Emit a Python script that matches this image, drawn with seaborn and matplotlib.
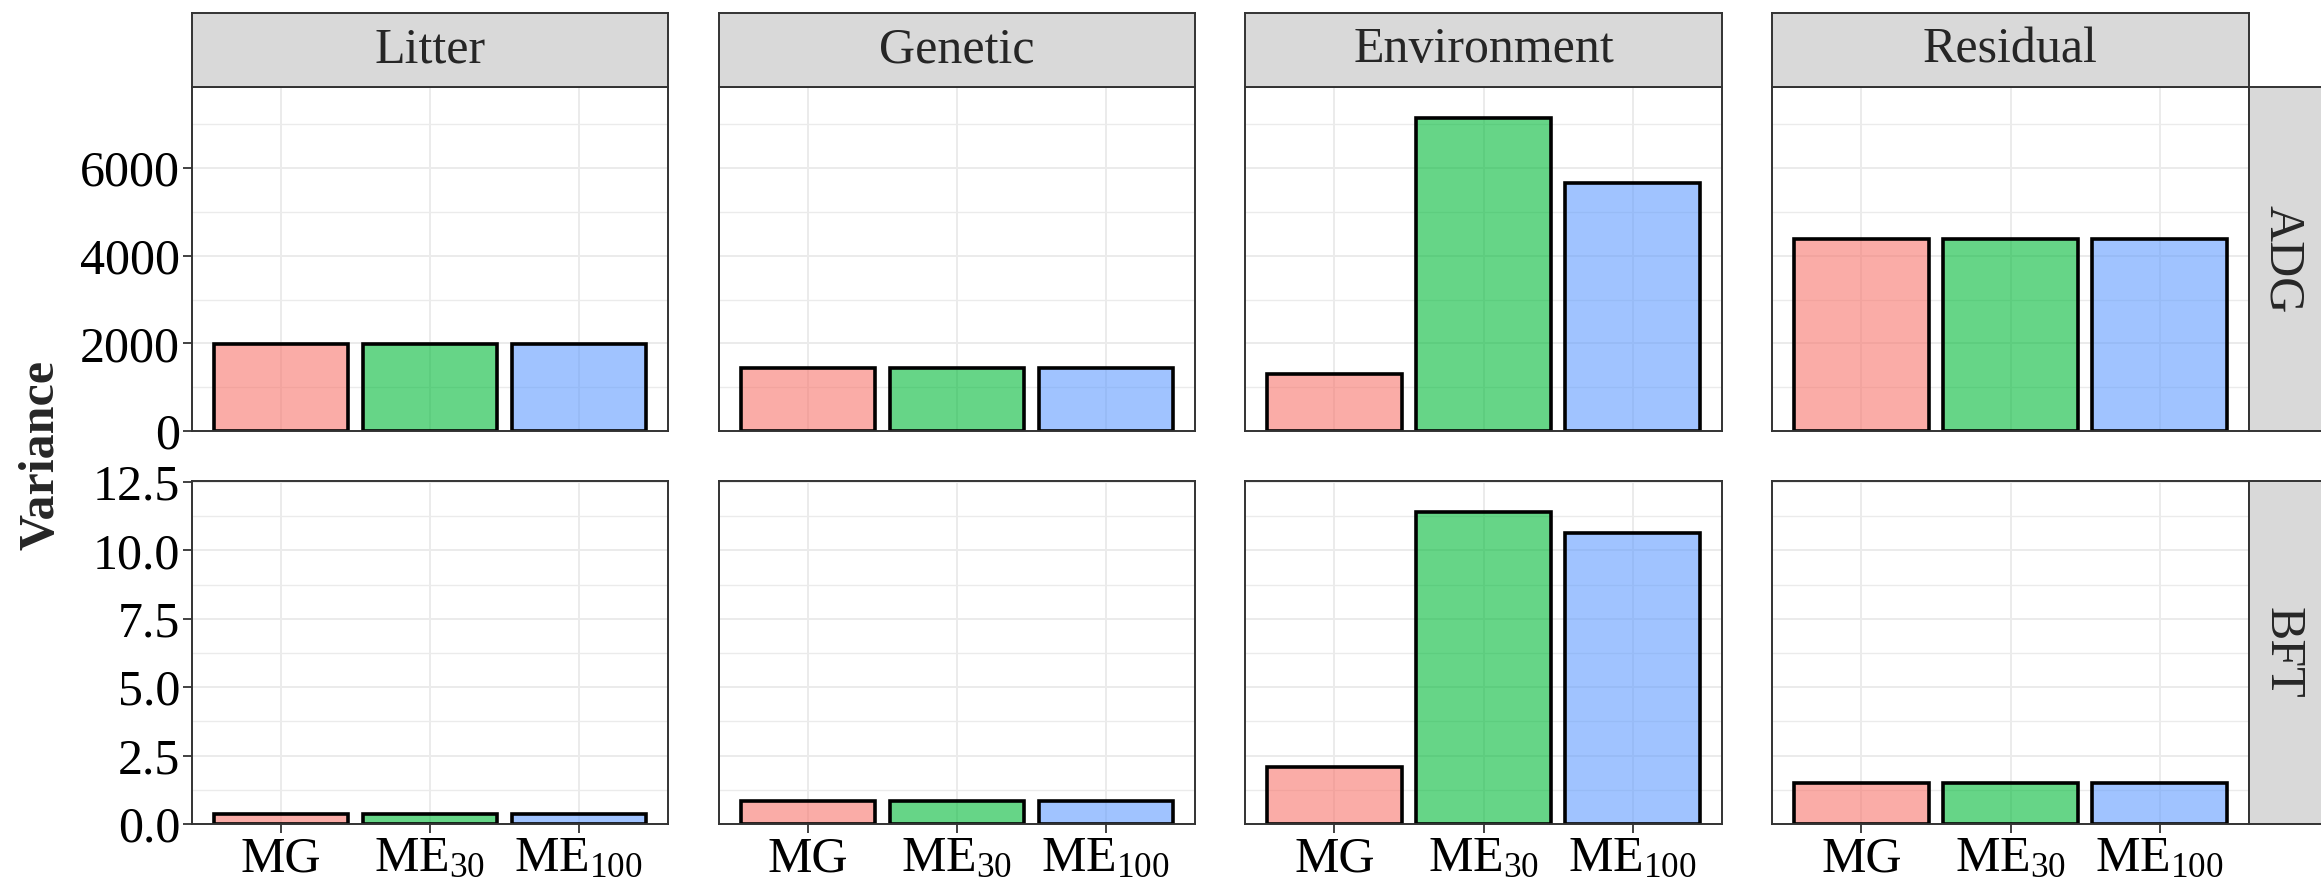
import numpy as np
import pandas as pd
import matplotlib
matplotlib.use("Agg")
import matplotlib.pyplot as plt
from matplotlib.ticker import FixedLocator, MultipleLocator
import seaborn as sns

# --- data -------------------------------------------------------------
components = ["Litter", "Genetic", "Environment", "Residual"]
traits = ["ADG", "BFT"]
models = ["MG", "ME30", "ME100"]
model_labels = [r"MG", r"ME$_{\mathrm{30}}$", r"ME$_{\mathrm{100}}$"]

# variance per component, one list per model (order of `components`)
adg_mg = [1980, 1430, 1310, 4380]
adg_me30 = [1980, 1430, 7136, 4380]
adg_me100 = [1980, 1430, 5670, 4380]

bft_mg = [0.36, 0.83, 2.10, 1.49]
bft_me30 = [0.36, 0.83, 11.40, 1.49]
bft_me100 = [0.36, 0.83, 10.64, 1.49]

adg_ticks = [0, 2000, 4000, 6000]
adg_ticklabels = ["0", "2000", "4000", "6000"]
bft_ticks = [0.0, 2.5, 5.0, 7.5, 10.0, 12.5]
bft_ticklabels = ["0.0", "2.5", "5.0", "7.5", "10.0", "12.5"]

palette = {"MG": "#F8766D", "ME30": "#00BA38", "ME100": "#619CFF"}

rows = []
for trait, series in (("ADG", (adg_mg, adg_me30, adg_me100)),
                      ("BFT", (bft_mg, bft_me30, bft_me100))):
    for model, vals in zip(models, series):
        for comp, v in zip(components, vals):
            rows.append({"trait": trait, "component": comp, "model": model, "value": v})
df = pd.DataFrame(rows)

# --- style ------------------------------------------------------------
sns.set_theme(style="white")
plt.rcParams["font.family"] = ["Liberation Serif", "DejaVu Serif"]
plt.rcParams["mathtext.fontset"] = "custom"
plt.rcParams["mathtext.rm"] = "Liberation Serif"
plt.rcParams["mathtext.it"] = "Liberation Serif:italic"
plt.rcParams["mathtext.bf"] = "Liberation Serif:bold"

FS = 36
BORDER = "#333333"
GRID = "#EBEBEB"
STRIP = "#D9D9D9"

W, H = 2321, 889
fig = plt.figure(figsize=(W / 100, H / 100), dpi=100)
fig.patch.set_facecolor("white")

col_x = [(192, 668), (719, 1195), (1245, 1722), (1772, 2249)]
row_y = [(87, 431), (481, 824)]
strip_top = 13
strip_right = 2321


def fig_rect(x0, y0, x1, y1):
    return [x0 / W, 1 - y1 / H, (x1 - x0) / W, (y1 - y0) / H]


ymax = {t: df.loc[df.trait == t, "value"].max() * 1.1 for t in traits}

for r, trait in enumerate(traits):
    for c, comp in enumerate(components):
        x0, x1 = col_x[c]
        y0, y1 = row_y[r]
        ax = fig.add_axes(fig_rect(x0, y0, x1, y1))
        sub = df[(df.trait == trait) & (df.component == comp)]
        sns.barplot(data=sub, x="model", y="value", hue="model", order=models,
                    hue_order=models, palette=palette, saturation=1, width=0.9,
                    legend=False, ax=ax)
        for p in ax.patches:
            fc = p.get_facecolor()
            p.set_facecolor((fc[0], fc[1], fc[2], 0.6))
            p.set_edgecolor("black")
            p.set_linewidth(2.6)
            p.set_zorder(2)

        ax.set_xlim(-0.6, 2.6)
        ax.set_ylim(0, ymax[trait])
        ax.set_axisbelow(True)
        ax.set_facecolor("white")

        ticks = adg_ticks if trait == "ADG" else bft_ticks
        labels = adg_ticklabels if trait == "ADG" else bft_ticklabels
        step = ticks[1] - ticks[0]
        ax.yaxis.set_major_locator(FixedLocator(ticks))
        ax.yaxis.set_minor_locator(MultipleLocator(step / 2))
        ax.grid(True, which="major", axis="both", color=GRID, linewidth=1.4, zorder=0)
        ax.grid(True, which="minor", axis="y", color=GRID, linewidth=1.0, zorder=0)

        ax.set_xticks(range(len(models)))
        ax.set_xlabel("")
        ax.set_ylabel("")
        ax.tick_params(axis="both", which="major", length=6.5, width=1.3,
                       color=BORDER, labelsize=FS, labelcolor="black", pad=2)
        ax.tick_params(axis="y", which="minor", length=0)

        if c == 0:
            ax.set_yticklabels(labels)
            ax.tick_params(axis="y", left=True, labelleft=True)
        else:
            ax.tick_params(axis="y", left=False, labelleft=False)
        if r == len(traits) - 1:
            ax.set_xticklabels(model_labels)
            ax.tick_params(axis="x", bottom=True, labelbottom=True)
        else:
            ax.tick_params(axis="x", bottom=False, labelbottom=False)

        for s in ax.spines.values():
            s.set_visible(True)
            s.set_color(BORDER)
            s.set_linewidth(1.4)

        # column strip on top row
        if r == 0:
            sax = fig.add_axes(fig_rect(x0, strip_top, x1, y0))
            sax.set_facecolor(STRIP)
            sax.set_xticks([])
            sax.set_yticks([])
            for s in sax.spines.values():
                s.set_color(BORDER)
                s.set_linewidth(1.4)
            sax.text(0.5, 0.5, comp, ha="center", va="center", fontsize=FS,
                     transform=sax.transAxes)

        # row strip on the right
        if c == len(components) - 1:
            rax = fig.add_axes(fig_rect(x1, y0, strip_right + 2, y1))
            rax.set_facecolor(STRIP)
            rax.set_xticks([])
            rax.set_yticks([])
            for s in rax.spines.values():
                s.set_color(BORDER)
                s.set_linewidth(1.4)
            rax.text(0.45, 0.5, trait, ha="center", va="center", fontsize=FS,
                     rotation=-90, transform=rax.transAxes)

fig.text(42 / W, 1 - 455 / H, "Variance", rotation=90, ha="center", va="center",
         fontsize=FS, fontweight="bold")

fig.savefig("out.png", dpi=100, facecolor="white")
